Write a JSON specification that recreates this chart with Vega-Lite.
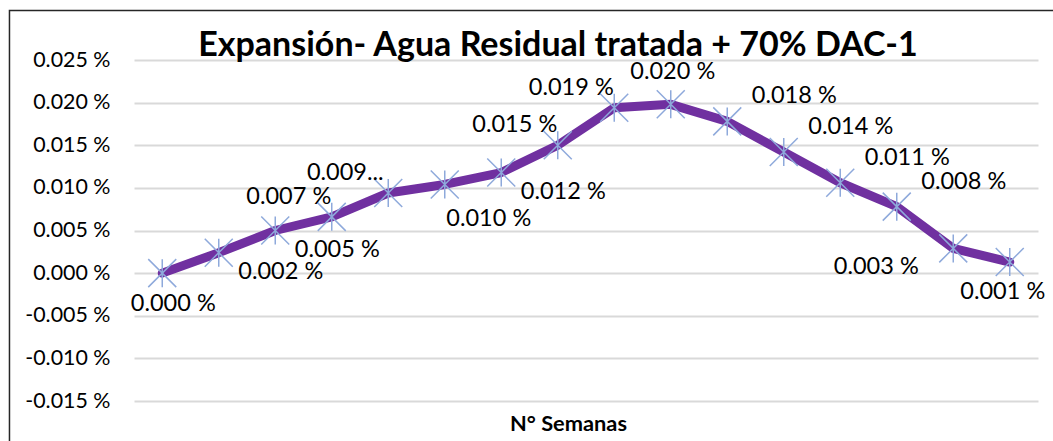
{
  "$schema": "https://vega.github.io/schema/vega-lite/v6.json",
  "autosize": {"type": "none"},
  "width": 904,
  "height": 341,
  "padding": {"left": 134, "top": 60, "right": 15, "bottom": 40},
  "background": "white",
  "config": {
    "font": "Lato",
    "view": {"stroke": null},
    "text": {"font": "Lato", "fontSize": 23.5, "color": "#000000"}
  },
  "title": {
    "text": "Expansión- Agua Residual tratada + 70% DAC-1",
    "font": "Lato",
    "fontSize": 34,
    "fontWeight": "bold",
    "color": "#000000",
    "anchor": "middle",
    "frame": "group",
    "baseline": "alphabetic",
    "offset": 0,
    "dx": -28,
    "dy": 80
  },
  "datasets": {
    "pts": [
      {"semana": 1, "valor": 0.0000, "etiqueta": "0.000 %", "pos": "below"},
      {"semana": 2, "valor": 0.0024, "etiqueta": "0.002 %", "pos": "right-below"},
      {"semana": 3, "valor": 0.0050, "etiqueta": "0.005 %", "pos": "right-below"},
      {"semana": 4, "valor": 0.0066, "etiqueta": "0.007 %", "pos": "left-above"},
      {"semana": 5, "valor": 0.0094, "etiqueta": "0.009...", "pos": "left-above"},
      {"semana": 6, "valor": 0.0104, "etiqueta": "0.010 %", "pos": "below-right"},
      {"semana": 7, "valor": 0.0118, "etiqueta": "0.012 %", "pos": "right-below"},
      {"semana": 8, "valor": 0.0150, "etiqueta": "0.015 %", "pos": "left-above"},
      {"semana": 9, "valor": 0.0194, "etiqueta": "0.019 %", "pos": "left-above"},
      {"semana": 10, "valor": 0.0198, "etiqueta": "0.020 %", "pos": "above"},
      {"semana": 11, "valor": 0.0178, "etiqueta": "0.018 %", "pos": "right-above"},
      {"semana": 12, "valor": 0.0142, "etiqueta": "0.014 %", "pos": "right-above"},
      {"semana": 13, "valor": 0.0106, "etiqueta": "0.011 %", "pos": "right-above"},
      {"semana": 14, "valor": 0.0078, "etiqueta": "0.008 %", "pos": "right-above"},
      {"semana": 15, "valor": 0.0029, "etiqueta": "0.003 %", "pos": "left-below"},
      {"semana": 16, "valor": 0.0013, "etiqueta": "0.001 %", "pos": "below-left"}
    ]
  },
  "data": {"name": "pts"},
  "encoding": {
    "x": {
      "field": "semana",
      "type": "quantitative",
      "scale": {"domain": [0.5, 16.5], "nice": false, "zero": false},
      "axis": {
        "title": "N° Semanas",
        "labels": false,
        "ticks": false,
        "domain": false,
        "grid": false,
        "titleFont": "Lato",
        "titleFontSize": 21.8,
        "titleFontWeight": "bold",
        "titleColor": "#000000",
        "titlePadding": 12,
        "titleX": 434
      }
    },
    "y": {
      "field": "valor",
      "type": "quantitative",
      "scale": {"domain": [-0.015, 0.025], "nice": false, "zero": false},
      "axis": {
        "title": null,
        "values": [-0.015, -0.01, -0.005, 0, 0.005, 0.01, 0.015, 0.02, 0.025],
        "labelExpr": "(datum.value < 0 ? '-' : '') + format(abs(datum.value), '.3f') + ' %'",
        "labelFont": "Lato",
        "labelFontSize": 21.4,
        "labelColor": "#000000",
        "labelPadding": 24,
        "ticks": false,
        "domain": false,
        "grid": true,
        "gridColor": "#d9d9d9",
        "gridWidth": 2
      }
    }
  },
  "layer": [
    {
      "data": {"values": [{"x0": -1.704, "x1": 18, "y0": 0.0308, "y1": -0.03}]},
      "mark": {"type": "rect", "fill": null, "fillOpacity": 0, "stroke": "#262626", "strokeWidth": 1.5},
      "encoding": {
        "x": {"field": "x0", "type": "quantitative"},
        "x2": {"field": "x1"},
        "y": {"field": "y0", "type": "quantitative"},
        "y2": {"field": "y1"}
      }
    },
    {
      "mark": {"type": "line", "color": "#7030A0", "strokeWidth": 9, "strokeCap": "round", "strokeJoin": "round"}
    },
    {
      "mark": {
        "type": "point",
        "shape": "M-1,-1L1,1M1,-1L-1,1M0,-1L0,1",
        "filled": false,
        "size": 784,
        "stroke": "#8EA9DB",
        "strokeWidth": 1.5,
        "opacity": 1
      }
    },
    {
      "transform": [{"filter": "datum.pos === 'below'"}],
      "mark": {"type": "text", "dx": 11, "dy": 31, "baseline": "middle", "align": "center"},
      "encoding": {"text": {"field": "etiqueta"}}
    },
    {
      "transform": [{"filter": "datum.pos === 'below-left'"}],
      "mark": {"type": "text", "dx": -7, "dy": 30, "baseline": "middle", "align": "center"},
      "encoding": {"text": {"field": "etiqueta"}}
    },
    {
      "transform": [{"filter": "datum.pos === 'right-below'"}],
      "mark": {"type": "text", "dx": 62, "dy": 19, "baseline": "middle", "align": "center"},
      "encoding": {"text": {"field": "etiqueta"}}
    },
    {
      "transform": [{"filter": "datum.pos === 'below-right'"}],
      "mark": {"type": "text", "dx": 44, "dy": 35, "baseline": "middle", "align": "center"},
      "encoding": {"text": {"field": "etiqueta"}}
    },
    {
      "transform": [{"filter": "datum.pos === 'left-above'"}],
      "mark": {"type": "text", "dx": -43, "dy": -20, "baseline": "middle", "align": "center"},
      "encoding": {"text": {"field": "etiqueta"}}
    },
    {
      "transform": [{"filter": "datum.pos === 'above'"}],
      "mark": {"type": "text", "dx": 2, "dy": -32, "baseline": "middle", "align": "center"},
      "encoding": {"text": {"field": "etiqueta"}}
    },
    {
      "transform": [{"filter": "datum.pos === 'right-above'"}],
      "mark": {"type": "text", "dx": 67, "dy": -25, "baseline": "middle", "align": "center"},
      "encoding": {"text": {"field": "etiqueta"}}
    },
    {
      "transform": [{"filter": "datum.pos === 'left-below'"}],
      "mark": {"type": "text", "dx": -77, "dy": 19, "baseline": "middle", "align": "center"},
      "encoding": {"text": {"field": "etiqueta"}}
    }
  ]
}
